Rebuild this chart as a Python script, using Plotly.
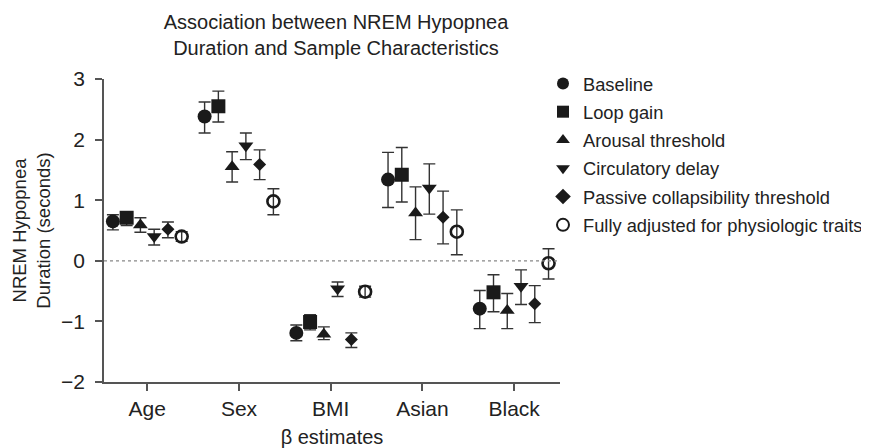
import plotly.graph_objects as go

categories = ["Age", "Sex", "BMI", "Asian", "Black"]

series_names = [
    "Baseline",
    "Loop gain",
    "Arousal threshold",
    "Circulatory delay",
    "Passive collapsibility threshold",
    "Fully adjusted for physiologic traits",
]

baseline = [0.65, 2.38, -1.19, 1.34, -0.79]
baseline_lo = [0.51, 2.11, -1.32, 0.88, -1.12]
baseline_hi = [0.76, 2.62, -1.06, 1.79, -0.49]

loop_gain = [0.71, 2.55, -1.01, 1.42, -0.52]
loop_gain_lo = [0.58, 2.29, -1.14, 0.97, -0.84]
loop_gain_hi = [0.81, 2.80, -0.89, 1.87, -0.23]

arousal = [0.59, 1.55, -1.21, 0.79, -0.82]
arousal_lo = [0.47, 1.30, -1.30, 0.35, -1.12]
arousal_hi = [0.71, 1.80, -1.09, 1.22, -0.54]

circulatory = [0.40, 1.90, -0.46, 1.20, -0.42]
circulatory_lo = [0.26, 1.67, -0.59, 0.77, -0.72]
circulatory_hi = [0.52, 2.11, -0.35, 1.60, -0.15]

passive = [0.52, 1.59, -1.30, 0.72, -0.71]
passive_lo = [0.38, 1.34, -1.43, 0.28, -1.02]
passive_hi = [0.64, 1.83, -1.19, 1.15, -0.41]

full = [0.40, 0.98, -0.51, 0.48, -0.04]
full_lo = [0.32, 0.76, -0.60, 0.10, -0.30]
full_hi = [0.48, 1.19, -0.42, 0.84, 0.20]

values = [baseline, loop_gain, arousal, circulatory, passive, full]
lows = [baseline_lo, loop_gain_lo, arousal_lo, circulatory_lo, passive_lo, full_lo]
highs = [baseline_hi, loop_gain_hi, arousal_hi, circulatory_hi, passive_hi, full_hi]

symbols = ["circle", "square", "triangle-up", "triangle-down", "diamond", "circle-open"]
sizes = [14, 14, 13, 13, 10, 12]

FONT = "Liberation Sans, Arial, Helvetica, sans-serif"
INK = "#1a1a1a"
AXIS = "#555555"
TXT = "#222222"

W, H = 861, 440  # page body adds an 8px offset

fig = go.Figure()
n = len(series_names)
step = 0.15
for i in range(n):
    off = (i - (n - 1) / 2) * step
    xs = [j + off for j in range(len(categories))]
    v = values[i]
    fig.add_trace(go.Scatter(
        x=xs, y=v, mode="markers", name=series_names[i],
        legendgroup=series_names[i],
        marker=dict(symbol=symbols[i], size=sizes[i], color=INK,
                    line=dict(color=INK, width=2.6 if i == 5 else 0)),
        error_y=dict(type="data", symmetric=False,
                     array=[h - a for h, a in zip(highs[i], v)],
                     arrayminus=[a - l for a, l in zip(v, lows[i])],
                     color="#333333", thickness=1.4, width=6),
    ))

fig.add_shape(type="line", xref="paper", yref="y", x0=0, x1=1, y0=0, y1=0,
              line=dict(color="#888888", width=1.2, dash="dot"))

fig.update_layout(
    width=W, height=H,
    margin=dict(l=96, r=W - 552, t=71, b=H - 374, autoexpand=False),
    paper_bgcolor="white", plot_bgcolor="white",
    font=dict(family=FONT, color=TXT, size=18),
    title=dict(text="Association between NREM Hypopnea<br>Duration and Sample Characteristics",
               x=328 / W, xanchor="center", yref="container", y=1 - 21 / H, yanchor="middle",
               font=dict(size=20, family=FONT, color=TXT)),
    showlegend=True,
    legend=dict(xref="container", yref="container", x=535 / W, xanchor="left",
                y=1 - 57 / H, yanchor="top",
                font=dict(size=18.3, family=FONT, color=TXT),
                tracegroupgap=1.5, itemsizing="constant", bgcolor="rgba(0,0,0,0)"),
    xaxis=dict(range=[-0.472, 4.5], tickmode="array", automargin=False,
               tickvals=list(range(len(categories))), ticktext=categories,
               showgrid=False, zeroline=False, showline=True, linecolor=AXIS, linewidth=1.5,
               ticks="outside", ticklen=7, tickwidth=1.5, tickcolor=AXIS,
               tickfont=dict(size=21, family=FONT, color=TXT),
               title=dict(text="β estimates", standoff=11, font=dict(size=20, family=FONT, color=TXT))),
    yaxis=dict(range=[-2, 3], tickvals=[-2, -1, 0, 1, 2, 3], automargin=False,
               showgrid=False, zeroline=False, showline=True, linecolor=AXIS, linewidth=1.5,
               ticks="outside", ticklen=7, tickwidth=1.5, tickcolor=AXIS,
               ticklabelstandoff=6,
               tickfont=dict(size=21, family=FONT, color=TXT),
               title=dict(text="NREM Hypopnea<br>Duration (seconds)", standoff=6,
                          font=dict(size=18.5, family=FONT, color=TXT))),
)

fig.write_html("out.html")
